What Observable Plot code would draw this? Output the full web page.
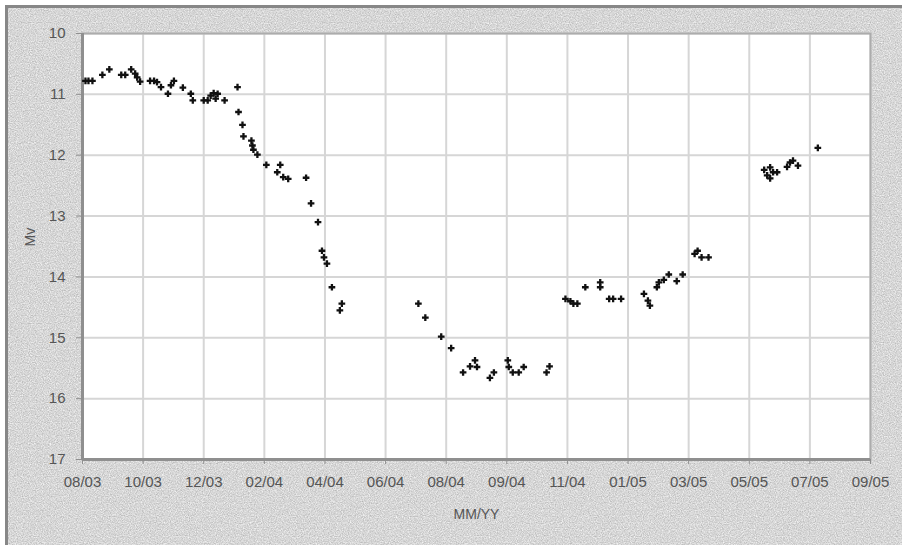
<!DOCTYPE html>
<html>
<head>
<meta charset="utf-8">
<script src="https://cdn.jsdelivr.net/npm/d3@7"></script>
<script src="https://cdn.jsdelivr.net/npm/@observablehq/plot@0.6"></script>
<style>
  html, body { margin: 0; padding: 0; background: #ffffff; }
  #wrap { position: relative; width: 902px; height: 545px; overflow: hidden; }
  #panel { position: absolute; left: 0; top: 0; }
  #chart { position: absolute; left: 0; top: 0; }
</style>
</head>
<body>
<div id="wrap">
  <svg id="panel" width="902" height="545" xmlns="http://www.w3.org/2000/svg">
    <defs>
      <filter id="grain" x="0" y="0" width="100%" height="100%" color-interpolation-filters="sRGB">
        <feTurbulence type="fractalNoise" baseFrequency="0.85" numOctaves="2" seed="7" result="noise"/>
        <feColorMatrix in="noise" type="matrix"
          values="0.34 0 0 0 0.67  0.34 0 0 0 0.67  0.34 0 0 0 0.67  0 0 0 0 1"/>
      </filter>
    </defs>
    <rect x="5" y="5" width="920" height="560" filter="url(#grain)"/>
    <line x1="6.5" y1="5" x2="6.5" y2="545" stroke="#878787" stroke-width="3"/>
    <line x1="5" y1="6.5" x2="902" y2="6.5" stroke="#878787" stroke-width="3"/>
  </svg>
  <div id="chart"></div>
</div>
<script>
// Observation times, in days after 1 Aug 2003
const days = [
  3, 6, 10, 20, 27, 39, 43, 49, 53, 55, 58, 68, 72, 75, 79, 86, 89, 92, 101, 109,
  111, 122, 126, 129, 132, 134, 136, 143, 156, 157, 161, 162, 170, 171, 172, 176,
  185, 196, 199, 202, 207, 225, 230, 237, 241, 243, 246, 251, 259, 261,
  338, 345, 361, 371, 383, 390, 395, 397, 410, 414, 428, 429, 433, 439, 444, 467, 470,
  486, 491, 494, 498, 506, 521, 521, 530, 534, 542, 565, 569, 571, 578, 580, 585,
  590, 598, 604, 616, 619, 623, 630,
  686, 689, 692, 692, 695, 699, 709, 712, 715, 720, 740
];

// Visual magnitude at each observation
const mags = [
  10.78, 10.78, 10.78, 10.68, 10.59, 10.68, 10.68, 10.59, 10.66, 10.72, 10.79, 10.78,
  10.78, 10.80, 10.88, 10.99, 10.85, 10.78, 10.89, 10.99,
  11.10, 11.10, 11.10, 11.02, 10.98, 11.07, 10.99, 11.10, 10.88, 11.29, 11.50, 11.69,
  11.76, 11.84, 11.91, 11.99,
  12.16, 12.28, 12.16, 12.36, 12.39, 12.37, 12.79, 13.10, 13.57, 13.68, 13.78, 14.17, 14.55, 14.44,
  14.44, 14.67, 14.98, 15.17, 15.57, 15.47, 15.37, 15.48, 15.66, 15.57, 15.37, 15.48,
  15.57, 15.57, 15.48, 15.57, 15.47,
  14.36, 14.40, 14.44, 14.44, 14.17, 14.09, 14.17, 14.36, 14.36, 14.36, 14.28, 14.39,
  14.47, 14.17, 14.09, 14.05,
  13.96, 14.07, 13.96, 13.62, 13.57, 13.68, 13.68,
  12.24, 12.33, 12.20, 12.38, 12.28, 12.28, 12.19, 12.12, 12.09, 12.17, 11.88
];

// Date axis: a tick every 61 days, labelled month/year
const tickLabels = ["08/03", "10/03", "12/03", "02/04", "04/04", "06/04", "08/04",
                    "09/04", "11/04", "01/05", "03/05", "05/05", "07/05", "09/05"];
const tickDays = tickLabels.map((_, i) => i * 61);

const magTicks = [10, 11, 12, 13, 14, 15, 16, 17];

const obs = days.map((d, i) => ({day: d, mag: mags[i]}));

const font = "'Liberation Sans', Arial, sans-serif";

const chart = Plot.plot({
  width: 902,
  height: 545,
  marginLeft: 82,
  marginRight: 32,
  marginTop: 33,
  marginBottom: 86,
  style: {background: "transparent", fontFamily: font},
  x: {domain: [0, 793], label: null},
  y: {domain: [10, 17], reverse: true, label: null},
  marks: [
    Plot.frame({fill: "white", stroke: null}),
    Plot.gridX(tickDays, {stroke: "#d6d6d6", strokeOpacity: 1, strokeWidth: 2}),
    Plot.gridY(magTicks, {stroke: "#d6d6d6", strokeOpacity: 1, strokeWidth: 2}),
    Plot.frame({stroke: "#acacac", strokeWidth: 2}),
    Plot.ruleX([0], {stroke: "#8f8f8f", strokeWidth: 3}),
    Plot.ruleY([17], {stroke: "#8f8f8f", strokeWidth: 3}),
    Plot.axisY(magTicks, {
      tickSize: 6, tickPadding: 11, stroke: "#8f8f8f", fill: "#555555",
      fontSize: 15, label: null, tickFormat: d => String(d)
    }),
    Plot.axisX(tickDays, {
      tickSize: 5, tickPadding: 12, stroke: "#8f8f8f", fill: "#555555",
      fontSize: 15, label: null, tickFormat: (d, i) => tickLabels[i]
    }),
    Plot.dot(obs, {
      x: "day", y: "mag", symbol: "plus", r: 2.3,
      stroke: "#111111", strokeWidth: 2.3
    }),
    Plot.text(["Mv"], {
      frameAnchor: "left", dx: -52, rotate: -90, fontSize: 14,
      fill: "#555555", fontFamily: font
    }),
    Plot.text(["MM/YY"], {
      frameAnchor: "bottom", dy: 59, fontSize: 14,
      fill: "#555555", fontFamily: font
    })
  ]
});

document.getElementById("chart").appendChild(chart);
</script>
</body>
</html>
